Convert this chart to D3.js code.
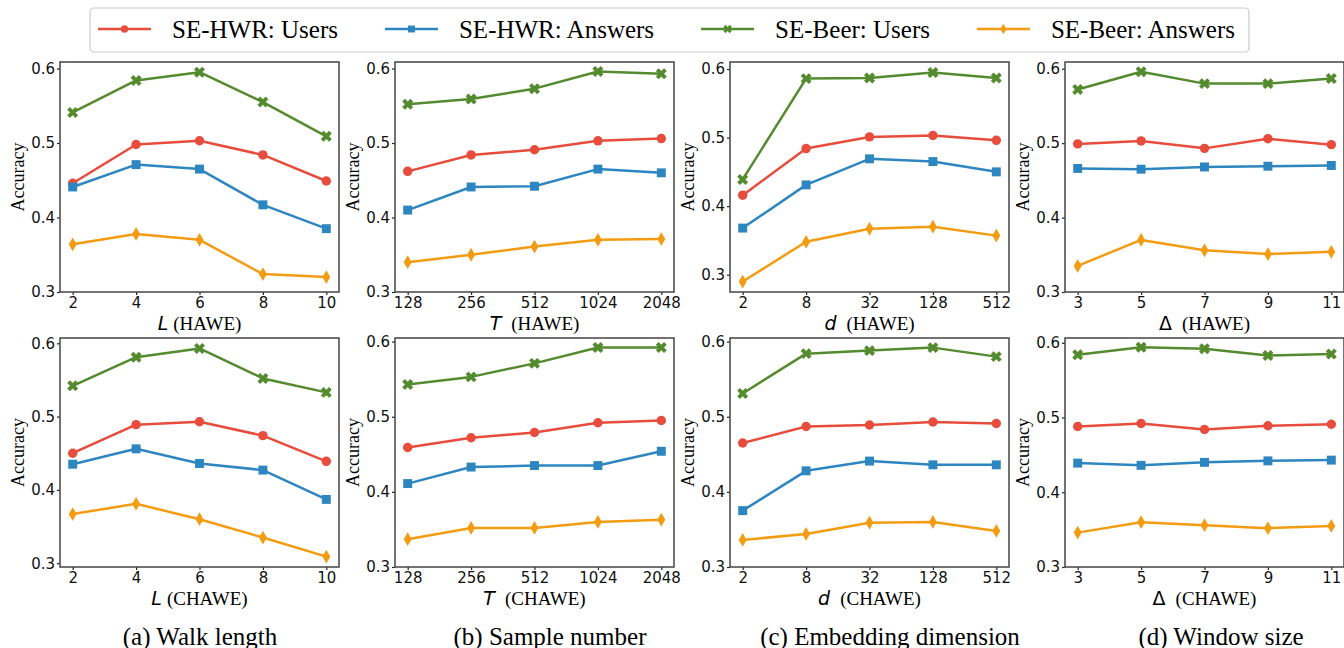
<!DOCTYPE html>
<html>
<head>
<meta charset="utf-8">
<script src="https://cdn.jsdelivr.net/npm/d3@7"></script>
<style>
  body { margin: 0; background: #fff; }
  svg { display: block; }
</style>
</head>
<body>
<svg id="chart" width="1344" height="648"></svg>
<script>
// series, in drawing / legend order
var seriesNames = ["SE-HWR: Users", "SE-HWR: Answers", "SE-Beer: Users", "SE-Beer: Answers"];
var seriesColors = ["#e74c3c", "#2e86c1", "#548b2e", "#f39c12"];

// x categories per column
var walkLengths = ["2", "4", "6", "8", "10"];
var sampleNumbers = ["128", "256", "512", "1024", "2048"];
var embedDims = ["2", "8", "32", "128", "512"];
var windowSizes = ["3", "5", "7", "9", "11"];
var yTicks = [0.3, 0.4, 0.5, 0.6];

// values: [HWR users, HWR answers, Beer users, Beer answers]
var walkHawe = [
    [0.446, 0.498, 0.503, 0.484, 0.449],
    [0.441, 0.471, 0.465, 0.417, 0.385],
    [0.541, 0.584, 0.595, 0.555, 0.509],
    [0.364, 0.378, 0.370, 0.324, 0.320]
];
var sampleHawe = [
    [0.462, 0.484, 0.491, 0.503, 0.506],
    [0.410, 0.441, 0.442, 0.465, 0.460],
    [0.552, 0.559, 0.573, 0.596, 0.593],
    [0.340, 0.350, 0.361, 0.370, 0.371]
];
var dimHawe = [
    [0.416, 0.484, 0.501, 0.503, 0.496],
    [0.368, 0.431, 0.469, 0.465, 0.450],
    [0.439, 0.586, 0.587, 0.595, 0.587],
    [0.290, 0.348, 0.367, 0.370, 0.357]
];
var windowHawe = [
    [0.499, 0.503, 0.493, 0.506, 0.498],
    [0.466, 0.465, 0.468, 0.469, 0.470],
    [0.572, 0.596, 0.580, 0.580, 0.587],
    [0.335, 0.370, 0.356, 0.351, 0.354]
];
var walkChawe = [
    [0.450, 0.489, 0.493, 0.474, 0.439],
    [0.435, 0.456, 0.436, 0.427, 0.387],
    [0.542, 0.581, 0.593, 0.552, 0.533],
    [0.367, 0.381, 0.360, 0.335, 0.309]
];
var sampleChawe = [
    [0.459, 0.472, 0.479, 0.492, 0.495],
    [0.411, 0.433, 0.435, 0.435, 0.454],
    [0.543, 0.553, 0.571, 0.592, 0.592],
    [0.337, 0.352, 0.352, 0.360, 0.363]
];
var dimChawe = [
    [0.465, 0.487, 0.489, 0.493, 0.491],
    [0.375, 0.428, 0.441, 0.436, 0.436],
    [0.531, 0.584, 0.588, 0.592, 0.580],
    [0.336, 0.344, 0.359, 0.360, 0.348]
];
var windowChawe = [
    [0.488, 0.492, 0.484, 0.489, 0.491],
    [0.439, 0.436, 0.440, 0.442, 0.443],
    [0.584, 0.594, 0.592, 0.583, 0.585],
    [0.346, 0.360, 0.356, 0.352, 0.355]
];

var paramSymbols = ["L", "T", "d", "\u0394"];
var captions = ["(a) Walk length", "(b) Sample number", "(c) Embedding dimension", "(d) Window size"];

var columns = [
    { cats: walkLengths, rows: [walkHawe, walkChawe] },
    { cats: sampleNumbers, rows: [sampleHawe, sampleChawe] },
    { cats: embedDims, rows: [dimHawe, dimChawe] },
    { cats: windowSizes, rows: [windowHawe, windowChawe] }
];
var methods = ["HAWE", "CHAWE"];

// layout
var colLeft = [60, 395, 730, 1065],
    plotW = 279,
    rowTop = [62, 338],
    plotH = [230, 229],
    captionX = [200, 550, 890, 1221];

var serif = "'Liberation Serif', 'Times New Roman', serif",
    sans = "'DejaVu Sans', sans-serif";

var svg = d3.select("#chart");

var markerShapes = [d3.symbolCircle, d3.symbolSquare, d3.symbolCross, d3.symbolDiamond];
var markerSizes = [70, 80, 75, 55];
var markerRotate = [0, 0, 45, 0];

function drawPanel(ci, ri) {
    var col = columns[ci];
    var data = col.rows[ri];
    var x0 = colLeft[ci], y0 = rowTop[ri], h = plotH[ri];

    var all = d3.merge(data);
    var lo = d3.min(all), hi = d3.max(all), span = hi - lo;
    var yScale = d3.scaleLinear()
        .domain([Math.min(lo - 0.05 * span, 0.3), hi + 0.05 * span])
        .range([h, 0]);
    var xScale = d3.scalePoint()
        .domain(col.cats)
        .range([0, plotW])
        .padding(0.2);

    var g = svg.append("g").attr("transform", "translate(" + x0 + "," + y0 + ")");

    var yAxis = d3.axisLeft(yScale).tickValues(yTicks).tickFormat(d3.format(".1f"))
        .tickSize(3).tickPadding(2);
    var xAxis = d3.axisBottom(xScale).tickSize(3).tickPadding(2);

    var yg = g.append("g").call(yAxis);
    var xg = g.append("g").attr("transform", "translate(0," + h + ")").call(xAxis);
    [yg, xg].forEach(function (a) {
        a.select(".domain").remove();
        a.selectAll("line").attr("stroke", "#222").attr("stroke-width", 1.2);
        a.selectAll("text").style("font-family", sans).style("font-size", "15px").attr("fill", "#111");
    });

    var line = d3.line()
        .x(function (d, i) { return xScale(col.cats[i]); })
        .y(function (d) { return yScale(d); });

    data.forEach(function (vals, si) {
        g.append("path")
            .attr("d", line(vals))
            .attr("fill", "none")
            .attr("stroke", seriesColors[si])
            .attr("stroke-width", 2.5)
            .attr("stroke-linejoin", "round");
        var sym = d3.symbol().type(markerShapes[si]).size(markerSizes[si]);
        g.append("g").selectAll("path")
            .data(vals)
            .enter()
            .append("path")
            .attr("d", sym)
            .attr("transform", function (d, i) {
                return "translate(" + xScale(col.cats[i]) + "," + yScale(d) + ") rotate(" + markerRotate[si] + ")";
            })
            .attr("fill", seriesColors[si]);
    });

    // frame
    g.append("rect")
        .attr("width", plotW).attr("height", h)
        .attr("fill", "none").attr("stroke", "#444").attr("stroke-width", 1.5);

    // y label
    g.append("text")
        .attr("transform", "translate(-42," + (h / 2) + ") rotate(-90)")
        .attr("text-anchor", "middle")
        .attr("dominant-baseline", "central")
        .style("font-family", serif)
        .style("font-size", "18px")
        .text("Accuracy");

    // x label
    var xl = g.append("text")
        .attr("x", plotW / 2)
        .attr("y", h + 31)
        .attr("text-anchor", "middle")
        .attr("dominant-baseline", "central")
        .style("font-size", "19px");
    xl.append("tspan")
        .style("font-family", sans)
        .style("font-style", ci == 3 ? "normal" : "italic")
        .text(paramSymbols[ci]);
    xl.append("tspan")
        .style("font-family", serif)
        .attr("dx", ci == 0 ? 5 : 10)
        .text("(" + methods[ri] + ")");
}

for (var c = 0; c < 4; c++) {
    for (var r = 0; r < 2; r++) {
        drawPanel(c, r);
    }
}

// captions
svg.selectAll("text.caption")
    .data(captions)
    .enter()
    .append("text")
    .attr("class", "caption")
    .attr("x", function (d, i) { return captionX[i]; })
    .attr("y", 636)
    .attr("text-anchor", "middle")
    .attr("dominant-baseline", "central")
    .style("font-family", serif)
    .style("font-size", "25px")
    .text(function (d) { return d; });

// legend
var legend = svg.append("g");
var legendBox = legend.append("rect")
    .attr("x", 90).attr("y", 8).attr("height", 44).attr("rx", 4)
    .attr("fill", "#fff").attr("stroke", "#ccc").attr("stroke-width", 1.2);
var lx = 98, ly = 29;
seriesNames.forEach(function (name, si) {
    legend.append("line")
        .attr("x1", lx).attr("x2", lx + 53)
        .attr("y1", ly).attr("y2", ly)
        .attr("stroke", seriesColors[si]).attr("stroke-width", 2.5);
    legend.append("path")
        .attr("d", d3.symbol().type(markerShapes[si]).size(markerSizes[si] * 0.6))
        .attr("transform", "translate(" + (lx + 26.5) + "," + ly + ") rotate(" + markerRotate[si] + ")")
        .attr("fill", seriesColors[si]);
    var t = legend.append("text")
        .attr("x", lx + 74).attr("y", ly)
        .attr("dominant-baseline", "central")
        .style("font-family", serif)
        .style("font-size", "25px")
        .text(name);
    lx = lx + 74 + t.node().getComputedTextLength() + 47;
});
legendBox.attr("width", lx - 47 + 14 - 90);
</script>
</body>
</html>
